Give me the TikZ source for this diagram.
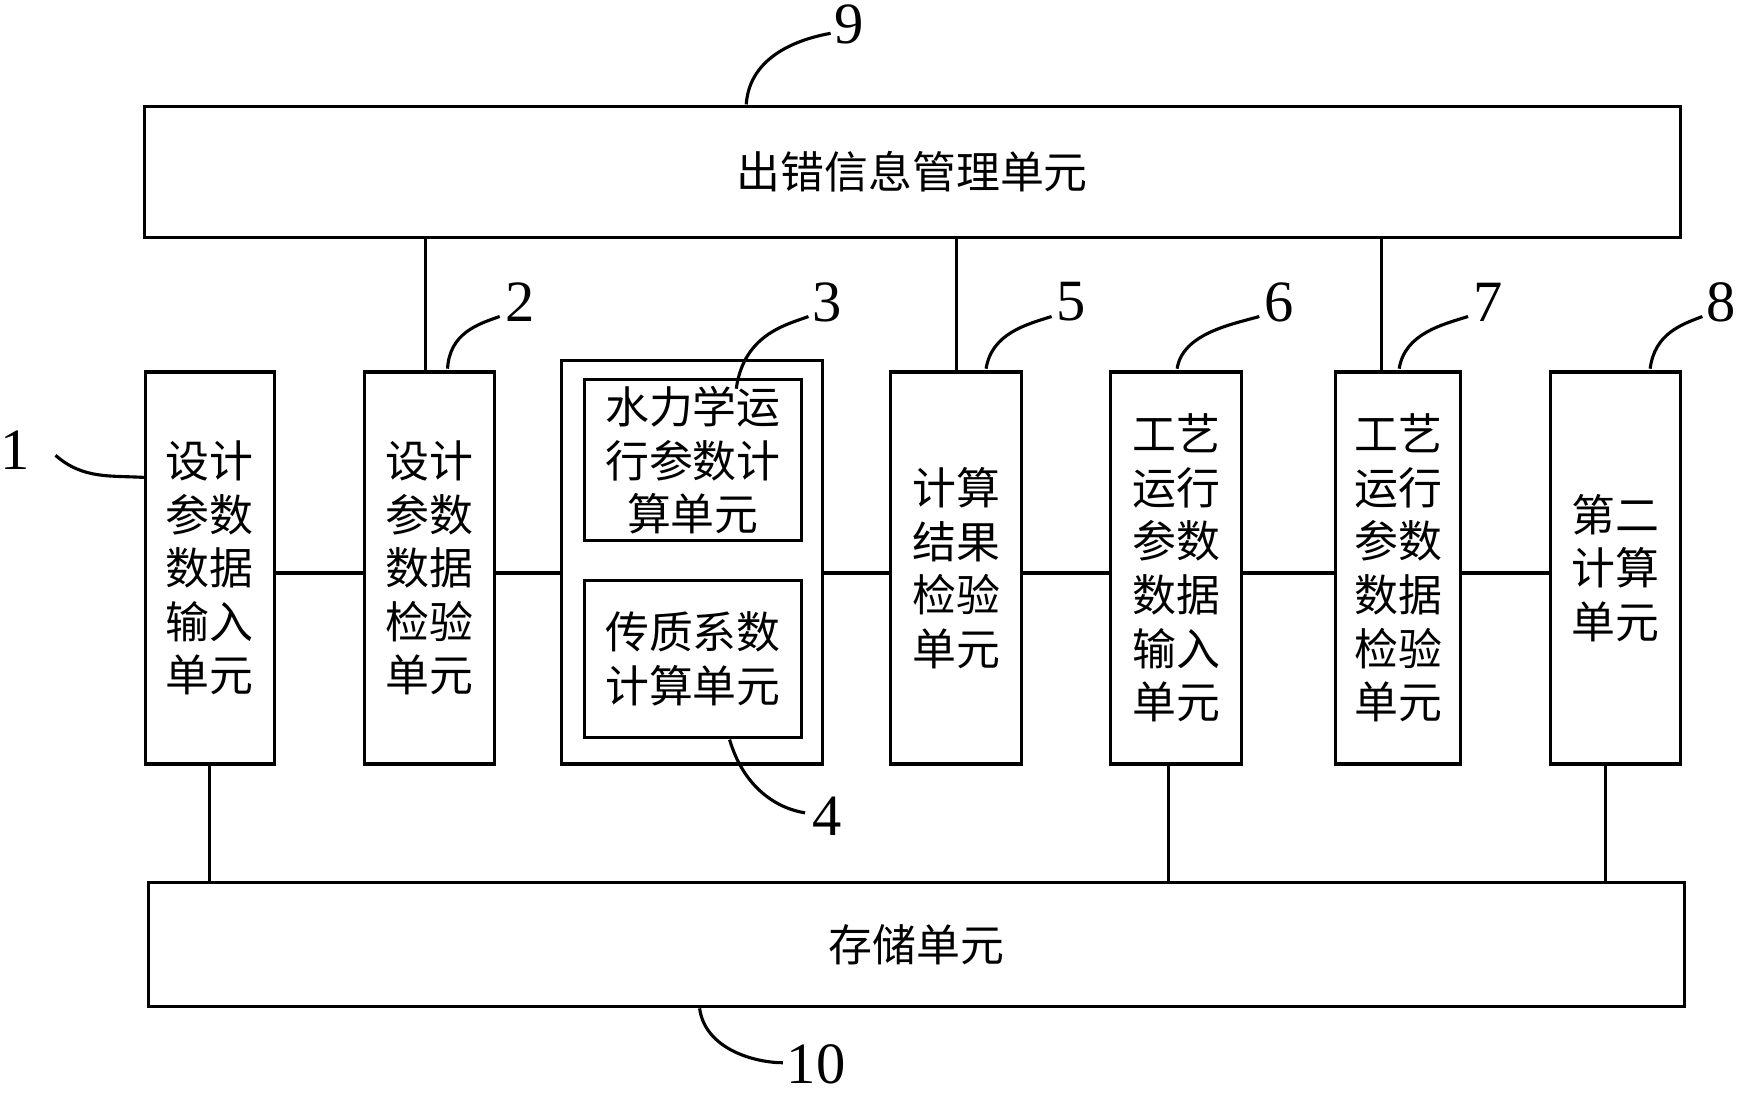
\documentclass[tikz,border=0pt]{standalone}
\usepackage{fontspec}
\setmainfont{Liberation Serif}
\newfontfamily\cjk{Noto Sans CJK SC}
\begin{document}
\begin{tikzpicture}[x=0.02cm,y=-0.02cm,
  box/.style={draw,line width=1.6pt,inner sep=0pt,font=\cjk\fontsize{22.5}{27.5}\selectfont,align=center},
  ln/.style={line width=1.6pt},
  num/.style={font=\fontsize{30}{30}\selectfont,inner sep=1pt}]
\useasboundingbox (0,0) rectangle (1566,985);
\newcommand\bx[6]{\node[box,minimum width={(#4-#2)*0.02cm},minimum height={(#5-#3)*0.02cm}] (#1) at ({(#2+#4)/2},{(#3+#5)/2}) {#6};}
\bx{top}{130}{96}{1513}{214}{出错信息管理单元}
\bx{bot}{134}{795}{1517}{906}{存储单元}
\bx{b1}{131}{335}{247}{688}{设计\\参数\\数据\\输入\\单元}
\bx{b2}{328}{335}{445}{688}{设计\\参数\\数据\\检验\\单元}
\bx{b3o}{506}{325}{741}{688}{}
\bx{b3}{526}{342}{722}{487}{水力学运\\行参数计\\算单元}
\bx{b4}{526}{523}{722}{664}{传质系数\\计算单元}
\bx{b5}{802}{335}{920}{688}{计算\\结果\\检验\\单元}
\bx{b6}{1000}{335}{1118}{688}{工艺\\运行\\参数\\数据\\输入\\单元}
\bx{b7}{1203}{335}{1315}{688}{工艺\\运行\\参数\\数据\\检验\\单元}
\bx{b8}{1396}{335}{1513}{688}{第二\\计算\\单元}
\coordinate (h) at (0,516);
\foreach \a/\b in {b1/b2,b2/b3o,b3o/b5,b5/b6,b6/b7,b7/b8}
  \draw[ln] (\a.east|-h) -- (\b.west|-h);
\foreach \b/\x in {b2/383,b5/861,b7/1244}
  \draw[ln] (\b.north-|{\x,0}) -- (top.south-|{\x,0});
\foreach \b/\x in {b1/189,b6/1052,b8/1446}
  \draw[ln] (\b.south-|{\x,0}) -- (bot.north-|{\x,0});
\node[num] (n1) at (14,405) {1};
\node[num] (n2) at (468,272) {2};
\node[num] (n3) at (745,272) {3};
\node[num] (n4) at (745,735) {4};
\node[num] (n5) at (965,272) {5};
\node[num] (n6) at (1152,272) {6};
\node[num] (n7) at (1340,272) {7};
\node[num] (n8) at (1550,272) {8};
\node[num] (n9) at (765,22) {9};
\node[num] (n10) at (735,958) {10};
\draw[ln] (50,410) .. controls (75,432) and (100,428) .. (131,430);
\draw[ln] (403,332) .. controls (405,300) and (430,292) .. (450,285);
\draw[ln] (663,350) .. controls (670,300) and (710,292) .. (728,285);
\draw[ln] (657,666) .. controls (670,710) and (700,728) .. (725,732);
\draw[ln] (888,332) .. controls (893,300) and (925,292) .. (947,285);
\draw[ln] (1060,332) .. controls (1065,300) and (1110,292) .. (1134,285);
\draw[ln] (1260,332) .. controls (1265,300) and (1300,292) .. (1322,285);
\draw[ln] (1486,332) .. controls (1490,300) and (1515,292) .. (1533,285);
\draw[ln] (672,94) .. controls (675,50) and (720,35) .. (748,30);
\draw[ln] (630,908) .. controls (635,945) and (680,957) .. (705,957);
\end{tikzpicture}
\end{document}
